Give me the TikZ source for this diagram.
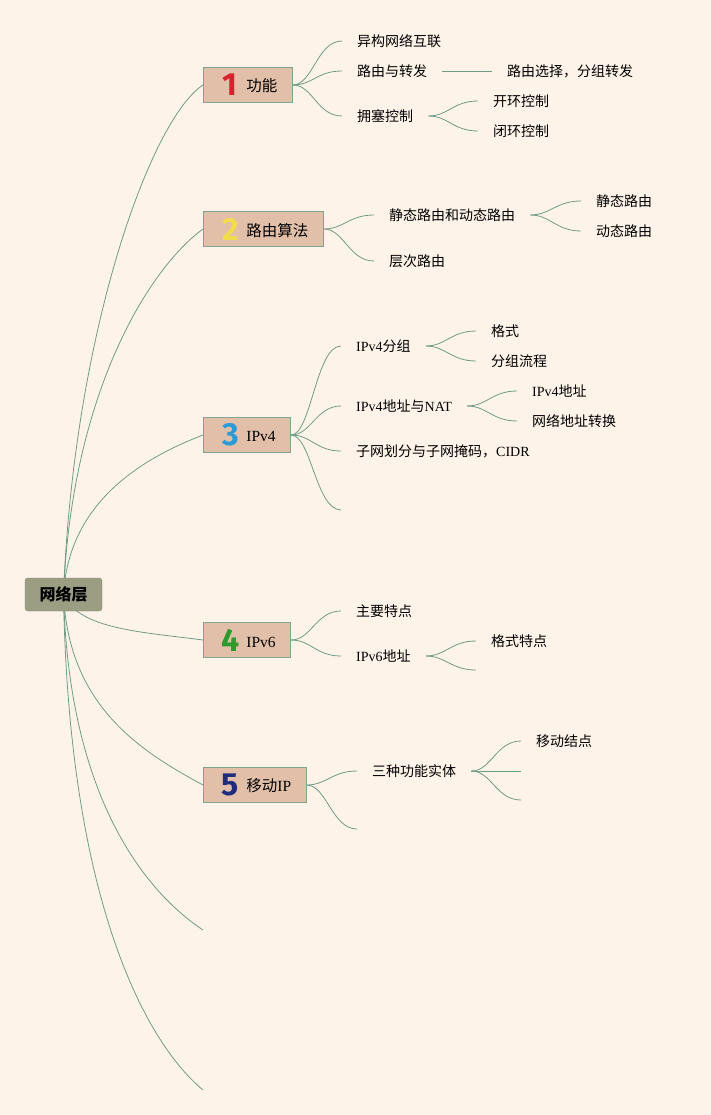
\documentclass[tikz,border=0pt]{standalone}
\usepackage{fontspec}
\setmainfont{Liberation Serif}
\newfontfamily\cjk{Noto Sans CJK SC}
\newfontfamily\digitfont{Fira Sans}
\usetikzlibrary{backgrounds}

\definecolor{paper}{HTML}{FEF3E9}
\definecolor{twig}{HTML}{6E9C86}
\definecolor{rootfill}{HTML}{9B9E83}
\definecolor{topicfill}{HTML}{E2BFA9}
\definecolor{topicline}{HTML}{7FA590}
\definecolor{numred}{HTML}{D9202E}
\definecolor{numyellow}{HTML}{F2DC4A}
\definecolor{numblue}{HTML}{2B9BD8}
\definecolor{numgreen}{HTML}{2D9A2D}
\definecolor{numnavy}{HTML}{1F2D7C}

\newcommand\zh[1]{{\cjk #1}}
\newcommand\badge[2]{\raisebox{-4pt}{\makebox[16pt]{\color{#1}\fontsize{32}{32}\selectfont\digitfont\bfseries #2}}}

\begin{document}
\begin{tikzpicture}[x=1pt,y=-1pt,
	rootbox/.style={draw=rootfill!85!black,fill=rootfill,rounded corners=3pt,minimum width=77pt,minimum height=33pt,inner sep=0pt,font=\cjk\bfseries\fontsize{16}{18}\selectfont},
	topic/.style={draw=topicline,fill=topicfill,line width=0.8pt,anchor=west,minimum height=35pt,inner xsep=15pt,inner ysep=0pt,font=\fontsize{15.5}{18}\selectfont},
	leaf/.style={anchor=west,inner xsep=15pt,inner ysep=2pt,font=\fontsize{14}{16}\selectfont},
	branch/.style={draw=twig,line width=0.8pt},
	curvy/.style={to path={.. controls +(20,0) and +(-25,0) .. (\tikztotarget)}}]
				\useasboundingbox (0,0) rectangle (711,1115);

				\node[rootbox] (root) at (63.5,594.5) {网络层};

				\node[topic] (t1) at (203,85) {\hspace{4pt}\badge{numred}{1}\hspace{8pt}\zh{功能}};
				\node[topic] (t2) at (203,229) {\hspace{4pt}\badge{numyellow}{2}\hspace{8pt}\zh{路由算法}};
				\node[topic] (t3) at (203,435) {\hspace{4pt}\badge{numblue}{3}\hspace{8pt}IPv4};
				\node[topic] (t4) at (203,640) {\hspace{4pt}\badge{numgreen}{4}\hspace{8pt}IPv6};
				\node[topic] (t5) at (203,785) {\hspace{4pt}\badge{numnavy}{5}\hspace{8pt}\zh{移动}IP};
				\coordinate (t6) at (203,930);
				\coordinate (t7) at (203,1090);

				\node[leaf] (a1) at (342,41) {\zh{异构网络互联}};
				\node[leaf] (a2) at (342,71) {\zh{路由与转发}};
				\node[leaf] (a3) at (342,116) {\zh{拥塞控制}};
				\node[leaf] (a21) at (492,71) {\zh{路由选择，分组转发}};
				\node[leaf] (a31) at (478,101) {\zh{开环控制}};
				\node[leaf] (a32) at (478,131) {\zh{闭环控制}};

				\node[leaf] (b1) at (374,215) {\zh{静态路由和动态路由}};
				\node[leaf] (b2) at (374,261) {\zh{层次路由}};
				\node[leaf] (b11) at (581,201) {\zh{静态路由}};
				\node[leaf] (b12) at (581,231) {\zh{动态路由}};

				\node[leaf] (c1) at (341,346) {IPv4\zh{分组}};
				\node[leaf] (c2) at (341,406) {IPv4\zh{地址与}NAT};
				\node[leaf] (c3) at (341,451) {\zh{子网划分与子网掩码，}CIDR};
				\coordinate (c4) at (341,510);
				\node[leaf] (c11) at (476,331) {\zh{格式}};
				\node[leaf] (c12) at (476,361) {\zh{分组流程}};
				\node[leaf] (c21) at (517,391) {IPv4\zh{地址}};
				\node[leaf] (c22) at (517,421) {\zh{网络地址转换}};

				\node[leaf] (d1) at (341,611) {\zh{主要特点}};
				\node[leaf] (d2) at (341,656) {IPv6\zh{地址}};
				\node[leaf] (d21) at (476,641) {\zh{格式特点}};
				\coordinate (d22) at (476,670);

				\node[leaf] (e1) at (357,771) {\zh{三种功能实体}};
				\coordinate (e2) at (357,829);
				\node[leaf] (e11) at (521,741) {\zh{移动结点}};
				\coordinate (e12) at (521,771);
				\coordinate (e13) at (521,800);

				\begin{pgfonlayer}{background}
				\fill[paper] (0,0) rectangle (711,1115);

				\draw[branch] (root.center) .. controls +(10,-260) and +(-53,35) .. (t1.west);
				\draw[branch] (root.center) .. controls +(8,-200) and +(-55,40) .. (t2.west);
				\draw[branch] (root.center) .. controls +(5,-90) and +(-65,25) .. (t3.west);
				\draw[branch] (root.center) .. controls +(15,35) and +(-60,-8) .. (t4.west);
				\draw[branch] (root.center) .. controls +(5,110) and +(-65,-35) .. (t5.west);
				\draw[branch] (root.center) .. controls +(5,200) and +(-60,-40) .. (t6);
				\draw[branch] (root.center) .. controls +(5,300) and +(-60,-50) .. (t7);

				\draw[branch] (t1.east) to[curvy] (a1.west);
				\draw[branch] (t1.east) to[curvy] (a2.west);
				\draw[branch] (t1.east) to[curvy] (a3.west);
				\draw[branch] (a2.east) -- (a21.west);
				\draw[branch] (a3.east) to[curvy] (a31.west);
				\draw[branch] (a3.east) to[curvy] (a32.west);

				\draw[branch] (t2.east) to[curvy] (b1.west);
				\draw[branch] (t2.east) to[curvy] (b2.west);
				\draw[branch] (b1.east) to[curvy] (b11.west);
				\draw[branch] (b1.east) to[curvy] (b12.west);

				\draw[branch] (t3.east) to[curvy] (c1.west);
				\draw[branch] (t3.east) to[curvy] (c2.west);
				\draw[branch] (t3.east) to[curvy] (c3.west);
				\draw[branch] (t3.east) to[curvy] (c4);
				\draw[branch] (c1.east) to[curvy] (c11.west);
				\draw[branch] (c1.east) to[curvy] (c12.west);
				\draw[branch] (c2.east) to[curvy] (c21.west);
				\draw[branch] (c2.east) to[curvy] (c22.west);

				\draw[branch] (t4.east) to[curvy] (d1.west);
				\draw[branch] (t4.east) to[curvy] (d2.west);
				\draw[branch] (d2.east) to[curvy] (d21.west);
				\draw[branch] (d2.east) to[curvy] (d22);

				\draw[branch] (t5.east) to[curvy] (e1.west);
				\draw[branch] (t5.east) to[curvy] (e2);
				\draw[branch] (e1.east) to[curvy] (e11.west);
				\draw[branch] (e1.east) -- (e12);
				\draw[branch] (e1.east) to[curvy] (e13);
				\end{pgfonlayer}
			\end{tikzpicture}
\end{document}
